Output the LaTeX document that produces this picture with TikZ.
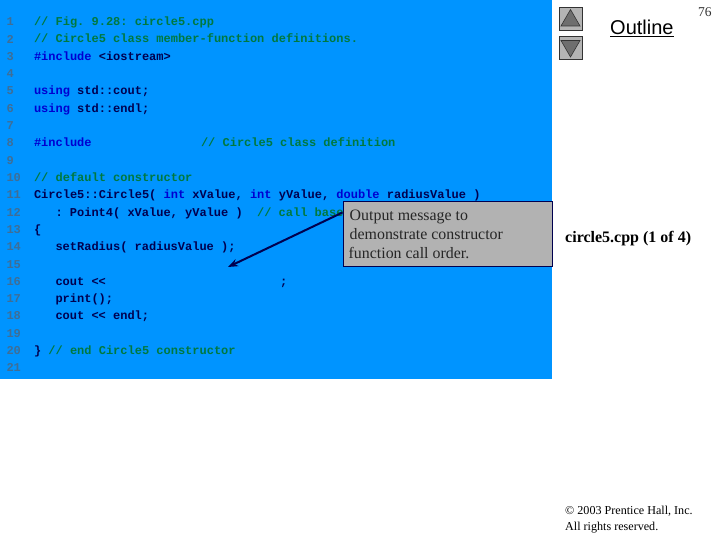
\documentclass[tikz,border=0pt]{standalone}
\usepackage{fontspec}
\setmainfont{Liberation Serif}
\setsansfont{Liberation Sans}
\setmonofont{Liberation Mono}
\usetikzlibrary{arrows.meta,shapes.geometric}
\definecolor{panelblue}{HTML}{0094FF}
\definecolor{cmt}{HTML}{00793F}
\definecolor{kw}{HTML}{0000D0}
\definecolor{idn}{HTML}{00004F}
\definecolor{lnum}{HTML}{3F6E96}
\definecolor{calloutgray}{HTML}{B2B2B2}
\definecolor{btn}{HTML}{B4B4B4}
\definecolor{tri}{HTML}{6E6E6E}
\newcommand{\C}[1]{\textcolor{cmt}{#1}}
\newcommand{\K}[1]{\textcolor{kw}{#1}}
\tikzset{
  code/.style={anchor=base west,inner sep=0pt,outer sep=0pt,text=idn,font=\ttfamily\bfseries\fontsize{12}{12}\selectfont},
  lno/.style={anchor=base west,inner sep=0pt,outer sep=0pt,text=lnum,font=\ttfamily\bfseries\fontsize{12}{12}\selectfont},
  callouttext/.style={anchor=base west,inner sep=0pt,font=\fontsize{15.9}{15.9}\selectfont,text=black!85},
  btnbox/.style={draw=black!80,fill=btn,line width=0.8pt,minimum width=23pt,minimum height=23pt,inner sep=0pt},
}
\begin{document}
\begin{tikzpicture}[x=1pt,y=-1pt]
\useasboundingbox (0,0) rectangle (720,540);
\fill[white] (0,0) rectangle (720,540);
\fill[panelblue] (0,0) rectangle (552,379);
% line numbers
\foreach \n in {1,...,21}{
  \node[lno] (n\n) at (6.5,{8.5+17.3*\n}) {\n};
}
% code
\node[code] (c1) at (34,25.7) {\C{// Fig. 9.28: circle5.cpp}};
\node[code] (c2) at (34,43) {\C{// Circle5 class member-function definitions.}};
\node[code] (c3) at (34,60.3) {\K{\#include} <iostream>};
\node[code] (c5) at (34,94.9) {\K{using} std::cout;};
\node[code] (c6) at (34,112.2) {\K{using} std::endl;};
\node[code] (c8) at (34,146.8) {\K{\#include}};
\node[code] (c8b) at (201,146.8) {\C{// Circle5 class definition}};
\node[code] (c10) at (34,181.4) {\C{// default constructor}};
\node[code] (c11) at (34,198.7) {Circle5::Circle5( \K{int} xValue, \K{int} yValue, \K{double} radiusValue )};
\node[code] (c12) at (55.5,216) {: Point4( xValue, yValue )~~\C{// call base}};
\node[code] (c13) at (34,233.3) {\{};
\node[code] (c14) at (55.5,250.6) {setRadius( radiusValue );};
\node[code] (c16) at (55.5,285.2) {cout <<};
\node[code] (c16b) at (280,285.2) {;};
\node[code] (c17) at (55.5,302.5) {print();};
\node[code] (c18) at (55.5,319.8) {cout << endl;};
\node[code] (c20) at (34,354.4) {\} \C{// end Circle5 constructor}};
% callout
\node[draw=idn,fill=calloutgray,line width=0.8pt,minimum width=209.5pt,minimum height=65pt,inner sep=0pt,anchor=north west] (callout) at (342.5,201) {};
\coordinate (tip) at (228,267);
\draw[idn,line width=2pt,-{Stealth[length=10pt,width=7.5pt]}] (callout.west |- 0,212.5) -- (tip);
\node[callouttext] (t1) at (349.5,220.5) {Output message to};
\node[callouttext] (t2) at (349.5,239.5) {demonstrate constructor};
\node[callouttext] (t3) at (348.5,258.5) {function call order.};
% right column
\node[anchor=base west,inner sep=0pt,font=\bfseries\fontsize{16}{16}\selectfont] (file) at (565,242) {circle5.cpp (1 of 4)};
\node[anchor=base west,inner sep=0pt,font=\sffamily\fontsize{20}{20}\selectfont] (outline) at (610,35) {\underline{Outline}};
\node[anchor=base west,inner sep=0pt,font=\fontsize{13.5}{13.5}\selectfont,text=black!80] (pg) at (698,17) {76};
\node[btnbox] (up) at (570.5,18.5) {};
\node[btnbox] (down) at (570.5,48) {};
\node[draw=black!80,fill=tri,regular polygon,regular polygon sides=3,minimum size=22pt,inner sep=0pt,line width=0.6pt] (uptri) at (570.5,20.5) {};
\node[draw=black!80,fill=tri,regular polygon,regular polygon sides=3,shape border rotate=180,minimum size=22pt,inner sep=0pt,line width=0.6pt] (downtri) at (570.5,46) {};
\node[anchor=base west,inner sep=0pt,font=\fontsize{12.1}{12.1}\selectfont] (copy1) at (565,514.5) {\textcopyright{} 2003 Prentice Hall, Inc.};
\node[anchor=base west,inner sep=0pt,font=\fontsize{12.1}{12.1}\selectfont] (copy2) at (565,530) {All rights reserved.};
\end{tikzpicture}
\end{document}
